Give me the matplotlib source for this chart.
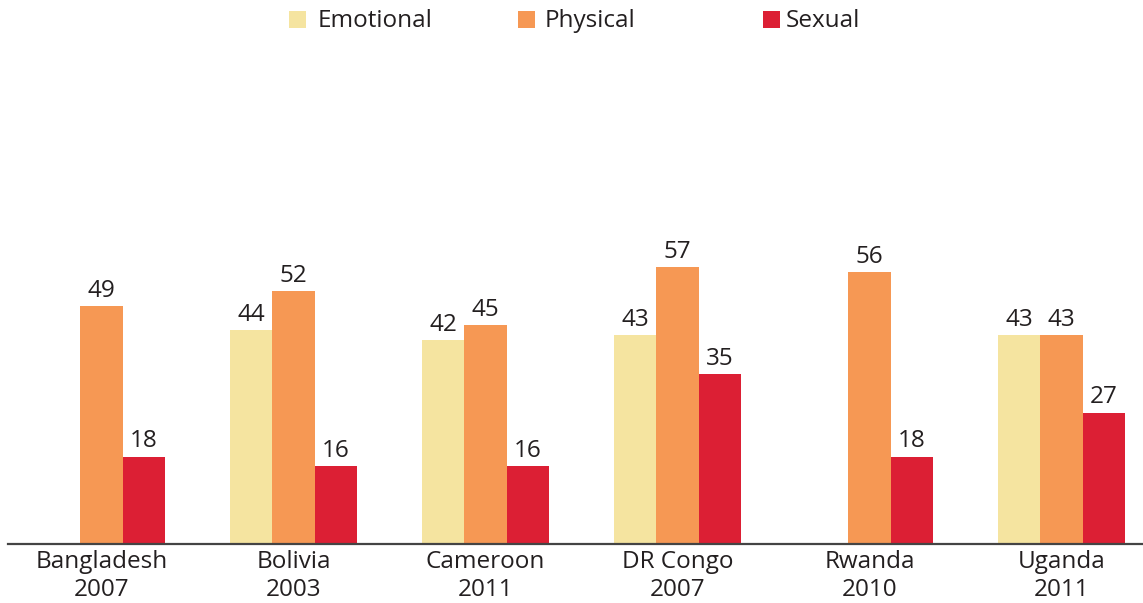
import numpy as np
import matplotlib.pyplot as plt
from matplotlib.patches import Rectangle

plt.rcParams['font.family'] = ['Open Sans', 'DejaVu Sans']

countries = ['Bangladesh', 'Bolivia', 'Cameroon', 'DR Congo', 'Rwanda', 'Uganda']
years = ['2007', '2003', '2011', '2007', '2010', '2011']
emotional = [np.nan, 44, 42, 43, np.nan, 43]
physical = [49, 52, 45, 57, 56, 43]
sexual = [18, 16, 16, 35, 18, 27]

series_names = ['Emotional', 'Physical', 'Sexual']
colors = ['#F5E4A0', '#F69854', '#DC1F34']
text_col = '#231F20'
fs = 17.5

fig = plt.figure(figsize=(11.43, 6.03), dpi=100)
ax = fig.add_axes([8 / 1143, 59 / 603, 1135 / 1143, 544 / 603])

x = np.arange(len(countries))
w = 0.221
for k, (vals, c) in enumerate(zip([emotional, physical, sexual], colors)):
    pos = x + (k - 1) * w
    ax.bar(pos, vals, width=w, color=c, linewidth=0)
    for xp, v in zip(pos, vals):
        if not np.isnan(v):
            ax.text(xp, v + 0.7, f'{v:g}', ha='center', va='bottom',
                    fontsize=fs, color=text_col)

ax.set_xlim(-0.487, 5.424)
ax.set_ylim(0, 112)
for s in ['top', 'right', 'left']:
    ax.spines[s].set_visible(False)
ax.spines['bottom'].set_color('#444444')
ax.spines['bottom'].set_linewidth(1.6)
ax.set_yticks([])
ax.set_xticks(x)
ax.set_xticklabels([f'{c}\n{y}' for c, y in zip(countries, years)],
                   fontsize=fs, color=text_col, linespacing=1.25)
ax.tick_params(axis='x', length=0, pad=4)

# legend drawn by hand for its uneven spacing
sq_x = [289, 518, 763]
tx_x = [318, 545, 786]
for name, c, sx, tx in zip(series_names, colors, sq_x, tx_x):
    fig.patches.append(Rectangle((sx / 1143, 1 - 28 / 603), 17 / 1143, 17 / 603,
                                 transform=fig.transFigure, color=c, lw=0))
    fig.text(tx / 1143, 1 - 21 / 603, name, ha='left', va='center',
             fontsize=fs, color=text_col)

fig.savefig('out.png', dpi=100)
